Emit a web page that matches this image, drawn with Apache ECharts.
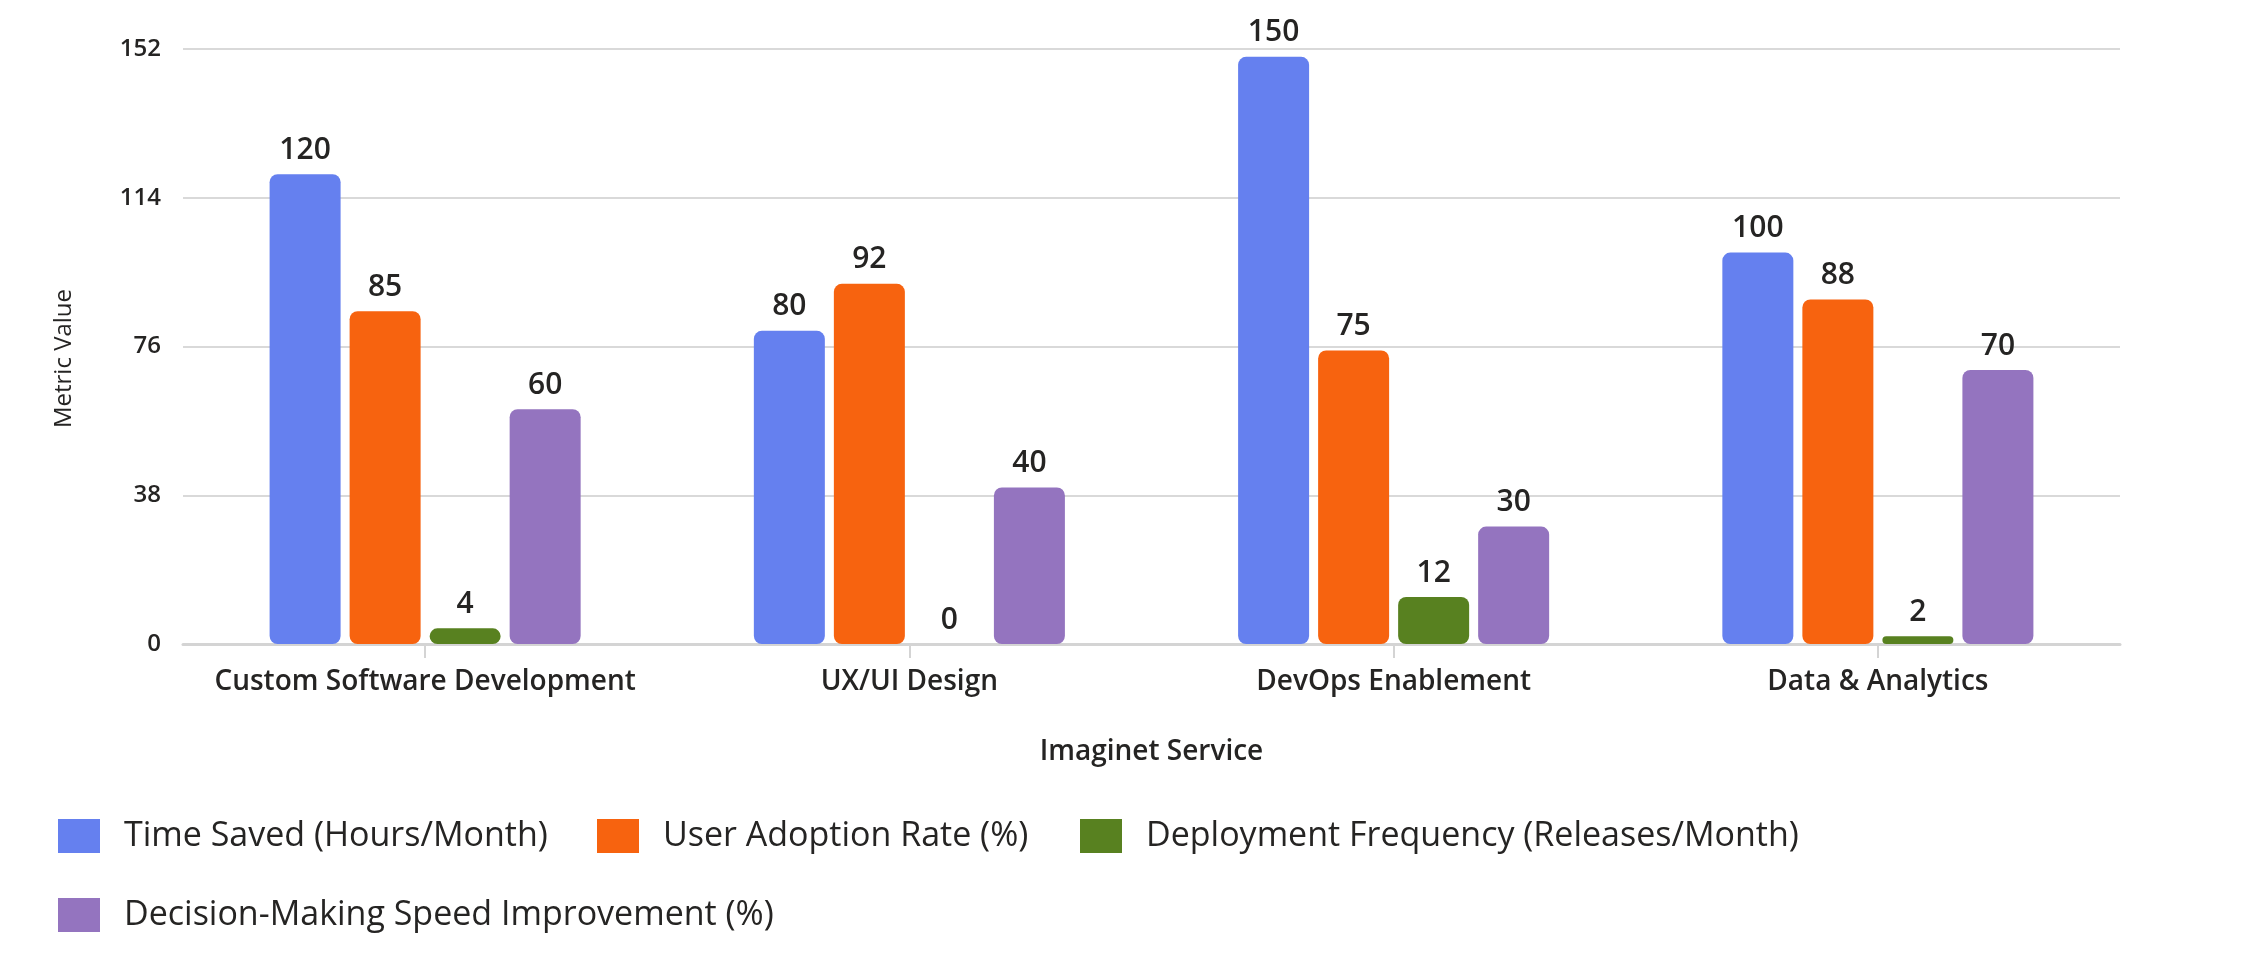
<!DOCTYPE html>
<html>
<head>
<meta charset="utf-8">
<script src="https://cdn.jsdelivr.net/npm/echarts@6/dist/echarts.min.js"></script>
<style>
html,body{margin:0;padding:0;background:#fff;}
#chart{width:2244px;height:954px;}
</style>
</head>
<body>
<div id="chart"></div>
<script>
const categories = ['Custom Software Development', 'UX/UI Design', 'DevOps Enablement', 'Data & Analytics'];
const seriesNames = ['Time Saved (Hours/Month)', 'User Adoption Rate (%)', 'Deployment Frequency (Releases/Month)', 'Decision-Making Speed Improvement (%)'];
const timeSaved = [120, 80, 150, 100];
const userAdoption = [85, 92, 75, 88];
const deploymentFreq = [4, 0, 12, 2];
const decisionSpeed = [60, 40, 30, 70];
const yTicks = [0, 38, 76, 114, 152];

const seriesData = [timeSaved, userAdoption, deploymentFreq, decisionSpeed];
const colors = ['#6580EF', '#F7630F', '#588120', '#9474BF'];
const legendPos = [
  {left: 58, top: 816},
  {left: 597, top: 816},
  {left: 1080, top: 816},
  {left: 58, top: 895}
];
const textColor = '#252423';
const font = '"Open Sans", "Noto Sans", sans-serif';

const chart = echarts.init(document.getElementById('chart'));
chart.setOption({
  animation: false,
  textStyle: {fontFamily: font},
  grid: {left: 183, right: 124, top: 49, bottom: 310, containLabel: false},
  legend: seriesNames.map((n, i) => ({
    data: [n],
    left: legendPos[i].left,
    top: legendPos[i].top,
    icon: 'rect',
    itemWidth: 42,
    itemHeight: 34,
    padding: 0,
    selectedMode: false,
    textStyle: {fontSize: 34, color: textColor, fontFamily: font, padding: [0, 0, 0, 19], lineHeight: 40}
  })),
  xAxis: {
    type: 'category',
    data: categories,
    name: 'Imaginet Service',
    nameLocation: 'middle',
    nameGap: 94,
    nameTextStyle: {fontSize: 28, fontWeight: 600, color: textColor, fontFamily: font},
    axisLine: {lineStyle: {color: '#d4d4d4', width: 3}},
    axisTick: {show: true, alignWithLabel: true, length: 14, lineStyle: {color: '#d4d4d4', width: 2}},
    axisLabel: {fontSize: 28, fontWeight: 600, color: textColor, margin: 24, fontFamily: font, interval: 0}
  },
  yAxis: {
    type: 'value',
    min: yTicks[0],
    max: yTicks[yTicks.length - 1],
    interval: yTicks[1] - yTicks[0],
    name: 'Metric Value',
    nameLocation: 'middle',
    nameGap: 107,
    nameRotate: 90,
    nameTextStyle: {fontSize: 24, color: textColor, fontFamily: font, padding: [0, 24, 0, 0]},
    axisLine: {show: false},
    axisTick: {show: false},
    splitLine: {lineStyle: {color: '#d9d9d9', width: 2}},
    axisLabel: {fontSize: 24, fontWeight: 600, color: textColor, margin: 22, fontFamily: font}
  },
  series: seriesNames.map((n, i) => ({
    name: n,
    type: 'bar',
    data: seriesData[i],
    barWidth: 71,
    barGap: '12.7%',
    itemStyle: {color: colors[i], borderRadius: 8},
    label: {
      show: true,
      position: 'top',
      distance: 9,
      fontSize: 30,
      fontWeight: 600,
      color: textColor,
      fontFamily: font
    }
  }))
});
</script>
</body>
</html>
